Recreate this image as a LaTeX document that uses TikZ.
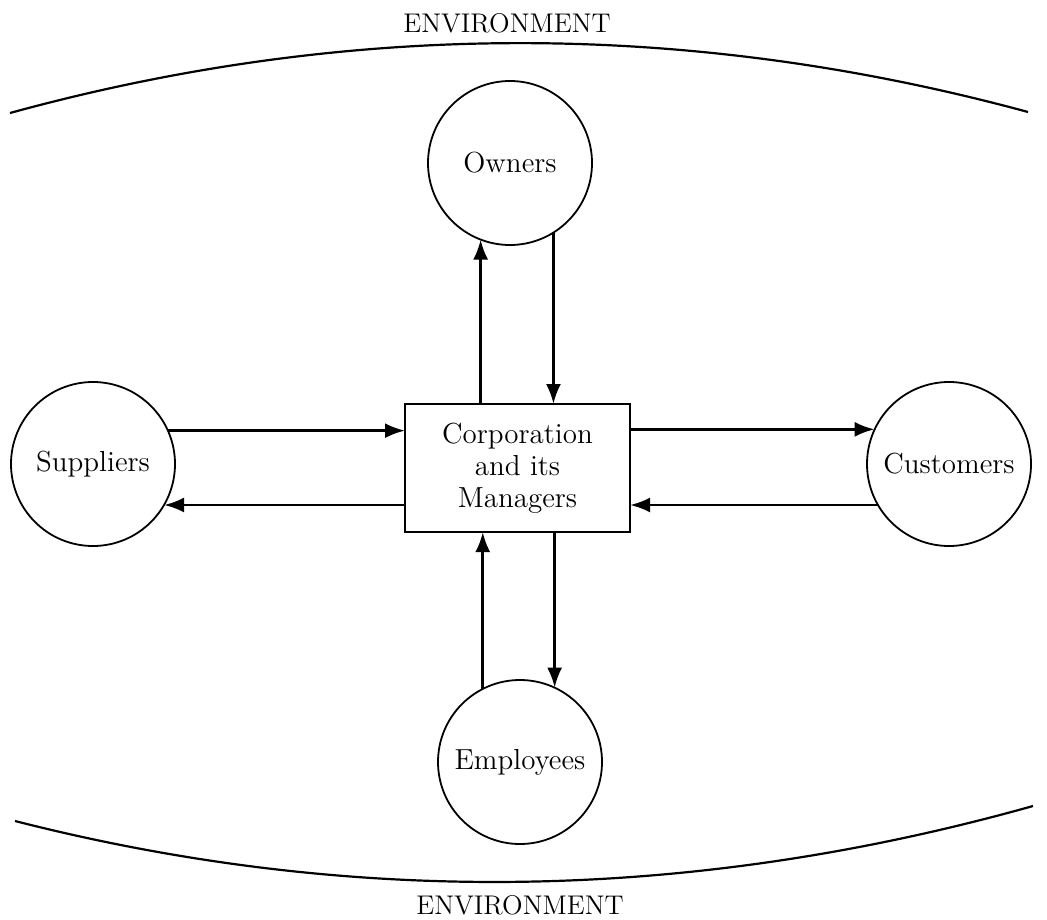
\documentclass[tikz,border=0pt]{standalone}
\usetikzlibrary{arrows.meta}
\begin{document}
\begin{tikzpicture}[x=0.5pt,y=-0.5pt,
  party/.style={draw, line width=0.9pt, circle, minimum size=82pt, inner sep=0pt, outer sep=0pt, font=\fontsize{14.5}{16}\selectfont},
  corp/.style={draw, line width=0.9pt, rectangle, minimum width=112.5pt, minimum height=64pt, inner sep=0pt, outer sep=0pt, align=center, font=\fontsize{14.5}{16}\selectfont},
  flow/.style={line width=1.4pt, -{Latex[length=10pt,width=7.5pt]}},
  envline/.style={line width=1.1pt},
  envlabel/.style={font=\fontsize{13.5}{16}\selectfont, inner sep=0pt}]
\useasboundingbox (0,0) rectangle (1047,919);
\fill[white] (0,0) rectangle (1047,919);
% environment
\node[envlabel] (envtop) at (507,23) {ENVIRONMENT};
\node[envlabel] (envbot) at (520,905) {ENVIRONMENT};
\coordinate (tl) at (10,113);
\coordinate (tr) at (1028,112);
\coordinate (bl) at (15,821);
\coordinate (br) at (1033,806);
\draw[envline] (tl) .. controls (349,20) and (689,20) .. (tr);
\draw[envline] (bl) .. controls (352,907) and (691,902) .. (br);
% nodes
\node[corp] (box) at (517.5,468) {Corporation\\and its\\Managers};
\node[party] (own) at (510,163) {Owners};
\node[party] (sup) at (93,464) {Suppliers};
\node[party] (cus) at (949,464) {Customers};
\node[party] (emp) at (520,762) {Employees};
% flows
\draw[flow] (sup.24.5) -- (sup.24.5 -| box.west);
\draw[flow] (sup.-30 -| box.west) -- (sup.-30);
\draw[flow] (cus.155.5 -| box.east) -- (cus.155.5);
\draw[flow] (cus.210.8) -- (cus.210.8 -| box.east);
\draw[flow] (own.-111.5 |- box.north) -- (own.-111.5);
\draw[flow] (own.-58.4) -- (own.-58.4 |- box.north);
\draw[flow] (emp.117.6) -- (emp.117.6 |- box.south);
\draw[flow] (emp.65.5 |- box.south) -- (emp.65.5);
\end{tikzpicture}
\end{document}
